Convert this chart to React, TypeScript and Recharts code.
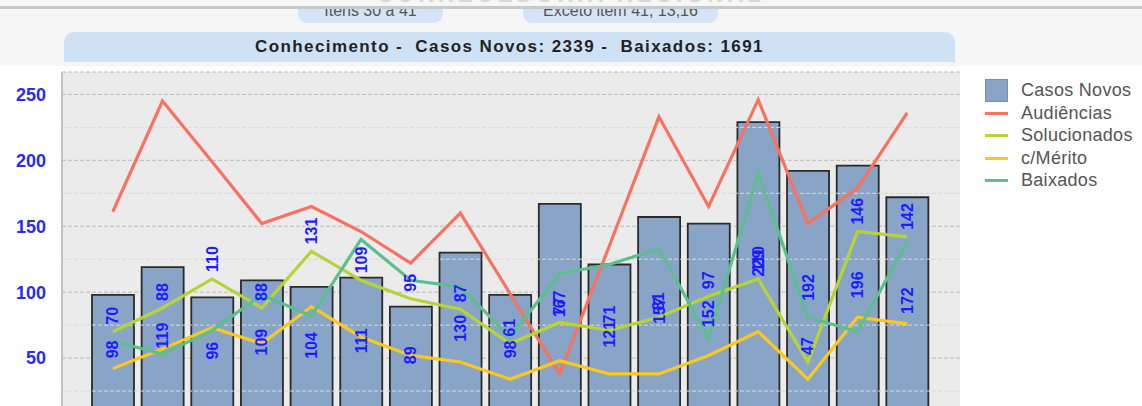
import React from 'react';
import {
  ComposedChart,
  Bar,
  Line,
  XAxis,
  YAxis,
  CartesianGrid,
  ReferenceLine,
  LabelList,
} from 'recharts';

// ---------- data ----------
const categories = ['1', '2', '3', '4', '5', '6', '7', '8', '9', '10', '11', '12', '13', '14', '15', '16', '17'];
const casosNovos = [98, 119, 96, 109, 104, 111, 89, 130, 98, 167, 121, 157, 152, 229, 192, 196, 172];
const audiencias = [161, 245, 199, 152, 165, 146, 122, 160, 99, 38, 135, 233, 165, 246, 152, 179, 236];
const solucionados = [70, 88, 110, 88, 131, 109, 95, 87, 61, 77, 71, 81, 97, 110, 47, 146, 142];
const comMerito = [42, 57, 73, 61, 89, 66, 52, 47, 34, 48, 38, 38, 52, 70, 34, 81, 76];
const baixados = [63, 53, 71, 98, 82, 140, 109, 104, 66, 114, 121, 133, 65, 190, 81, 70, 138];
const yTicks = [50, 100, 150, 200, 250];
const minorTicks = [25, 75, 125, 175, 225];

const titleText = 'Conhecimento -  Casos Novos: 2339 -  Baixados: 1691';
const headerText = 'CORREGEDORIA REGIONAL';
const tabTexts = ['Itens 30 a 41', 'Exceto item 41, 13,16'];

const series = [
  { key: 'casosNovos', name: 'Casos Novos', color: '#88a5c7', kind: 'bar' },
  { key: 'audiencias', name: 'Audiências', color: '#f7725f', kind: 'line' },
  { key: 'solucionados', name: 'Solucionados', color: '#b6d436', kind: 'line' },
  { key: 'comMerito', name: 'c/Mérito', color: '#f9c823', kind: 'line' },
  { key: 'baixados', name: 'Baixados', color: '#5dbf8d', kind: 'line' },
];

const data = categories.map((c, i) => ({
  cat: c,
  casosNovos: casosNovos[i],
  audiencias: audiencias[i],
  solucionados: solucionados[i],
  comMerito: comMerito[i],
  baixados: baixados[i],
}));

const LABEL_COLOR = '#1c1cff';
const FONT = 'Arial, "Liberation Sans", sans-serif';

const BarValueLabel = (props: any) => {
  const { x, y, width, height, value } = props;
  const cx = Number(x) + Number(width) / 2;
  const cy = Number(y) + Number(height) / 2 - 10;
  return (
    <text
      x={cx}
      y={cy}
      transform={`rotate(-90 ${cx} ${cy})`}
      textAnchor="middle"
      dominantBaseline="central"
      fill={LABEL_COLOR}
      fontWeight="bold"
      fontSize={16}
      fontFamily={FONT}
    >
      {value}
    </text>
  );
};

const PointValueLabel = (props: any) => {
  const { x, y, value } = props;
  const cx = Number(x);
  const cy = Number(y) - 7;
  return (
    <text
      x={cx}
      y={cy}
      transform={`rotate(-90 ${cx} ${cy})`}
      textAnchor="start"
      dominantBaseline="central"
      fill={LABEL_COLOR}
      fontWeight="bold"
      fontSize={16}
      fontFamily={FONT}
    >
      {value}
    </text>
  );
};

export default function App() {
  return (
    <div
      style={{
        position: 'absolute',
        left: 0,
        top: 0,
        width: 1142,
        height: 406,
        overflow: 'hidden',
        background: '#ffffff',
        fontFamily: FONT,
      }}
    >
      {/* header strip */}
      <div style={{ position: 'absolute', left: 0, top: 0, width: 1142, height: 66, background: '#f6f6f6' }} />
      <div style={{ position: 'absolute', left: 0, top: 0, width: 1142, height: 6, overflow: 'hidden' }}>
        <div
          style={{
            position: 'absolute',
            left: 0,
            top: -16,
            width: 1142,
            textAlign: 'center',
            fontSize: 22,
            fontWeight: 'bold',
            color: '#d8d8d8',
            letterSpacing: 4,
            lineHeight: '22px',
          }}
        >
          {headerText}
        </div>
      </div>
      <div style={{ position: 'absolute', left: 0, top: 6, width: 1142, height: 3, background: '#c9c9c9' }} />
      {/* tabs */}
      {tabTexts.map((t, i) => (
        <div
          key={t}
          style={{
            position: 'absolute',
            left: i === 0 ? 298 : 523,
            top: 9,
            width: i === 0 ? 145 : 195,
            height: 14,
            background: '#d3e5f6',
            borderRadius: '0 0 9px 9px',
            overflow: 'hidden',
          }}
        >
          <div
            style={{
              position: 'absolute',
              left: 0,
              top: -7,
              width: '100%',
              textAlign: 'center',
              fontSize: 16,
              color: '#555',
              lineHeight: '18px',
            }}
          >
            {t}
          </div>
        </div>
      ))}
      {/* title bar */}
      <div
        style={{
          position: 'absolute',
          left: 64,
          top: 32,
          width: 891,
          height: 30,
          background: '#cfe2f5',
          borderRadius: '10px 10px 0 0',
          textAlign: 'center',
          lineHeight: '30px',
          fontSize: 17,
          fontWeight: 'bold',
          color: '#222',
          whiteSpace: 'pre',
          letterSpacing: 1.4,
        }}
      >
        {titleText}
      </div>

      <div style={{ position: 'absolute', left: 0, top: 0 }}>
        <ComposedChart
          width={1142}
          height={424}
          data={data}
          margin={{ top: 72, right: 182, left: 0, bottom: 0 }}
        >
          <CartesianGrid
            vertical={false}
            fill="#ebebeb"
            stroke="#bababa"
            strokeDasharray="4 2"
          />
          {minorTicks.map((v) => (
            <ReferenceLine key={v} y={v} stroke="#d9d9d9" strokeDasharray="4 2" />
          ))}
          <XAxis dataKey="cat" hide padding={{ left: 26, right: 28 }} />
          <YAxis
            domain={[0, 267]}
            ticks={yTicks}
            width={62}
            tickLine={false}
            tickSize={0}
            tickMargin={16}
            axisLine={{ stroke: '#c2c2c2', strokeWidth: 2 }}
            tick={{ fill: '#2a2af2', fontSize: 18, fontWeight: 'bold', fontFamily: FONT }}
          />
          <Bar
            dataKey="casosNovos"
            name="Casos Novos"
            fill={series[0].color}
            stroke="#2a2a2a"
            strokeWidth={1.8}
            barSize={42}
            isAnimationActive={false}
          >
            <LabelList dataKey="casosNovos" content={BarValueLabel} />
          </Bar>
          {series
            .filter((s) => s.kind === 'line')
            .map((s) => (
              <Line
                key={s.key}
                type="linear"
                dataKey={s.key}
                name={s.name}
                stroke={s.color}
                strokeWidth={3.2}
                dot={false}
                activeDot={false}
                isAnimationActive={false}
              />
            ))}
          <Line
            type="linear"
            dataKey="solucionados"
            stroke="none"
            dot={false}
            activeDot={false}
            legendType="none"
            isAnimationActive={false}
          >
            <LabelList dataKey="solucionados" content={PointValueLabel} />
          </Line>
        </ComposedChart>
      </div>

      {/* legend */}
      <div style={{ position: 'absolute', left: 985, top: 79 }}>
        {series.map((s) => (
          <div key={s.key} style={{ position: 'relative', height: 22.5, width: 157 }}>
            {s.kind === 'bar' ? (
              <div
                style={{
                  position: 'absolute',
                  left: 0,
                  top: 0,
                  width: 23,
                  height: 23,
                  background: s.color,
                  border: '1px solid #7d8ea3',
                  boxSizing: 'border-box',
                }}
              />
            ) : (
              <div
                style={{
                  position: 'absolute',
                  left: 0,
                  top: 10,
                  width: 23,
                  height: 3,
                  background: s.color,
                }}
              />
            )}
            <div
              style={{
                position: 'absolute',
                left: 36,
                top: 0,
                fontSize: 18,
                lineHeight: '23px',
                color: '#555',
                whiteSpace: 'nowrap',
                letterSpacing: 0.3,
              }}
            >
              {s.name}
            </div>
          </div>
        ))}
      </div>
    </div>
  );
}
